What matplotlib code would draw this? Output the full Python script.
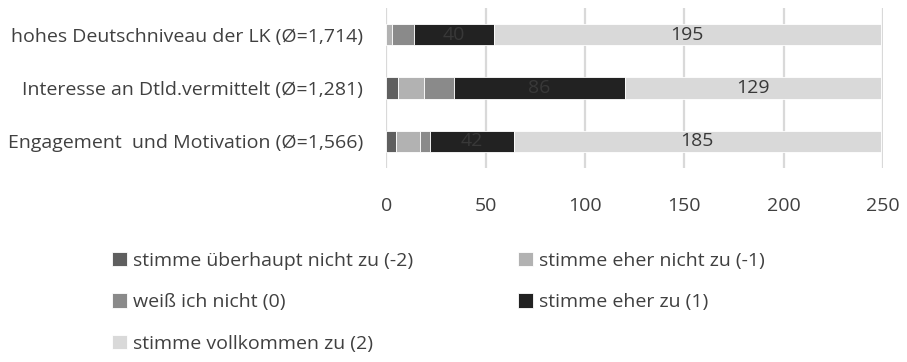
import matplotlib
matplotlib.use("Agg")
import matplotlib.pyplot as plt
import numpy as np

# Survey items (top to bottom) and answer categories
items = [
    "hohes Deutschniveau der LK (Ø=1,714)",
    "Interesse an Dtld.vermittelt (Ø=1,281)",
    "Engagement  und Motivation (Ø=1,566)",
]
categories = [
    "stimme überhaupt nicht zu (-2)",
    "stimme eher nicht zu (-1)",
    "weiß ich nicht (0)",
    "stimme eher zu (1)",
    "stimme vollkommen zu (2)",
]
# Counts per category, one list per answer level, in item order
strongly_disagree = [0, 6, 5]
disagree = [3, 13, 12]
dont_know = [11, 15, 5]
agree = [40, 86, 42]
strongly_agree = [195, 129, 185]

series = [strongly_disagree, disagree, dont_know, agree, strongly_agree]
colors = ["#5f5f5f", "#b2b2b2", "#8a8a8a", "#222222", "#d9d9d9"]
labelled = [False, False, False, True, True]
xticks = [0, 50, 100, 150, 200, 250]

plt.rcParams["font.family"] = ["Open Sans", "DejaVu Sans"]
text_color = "#404040"
fs = 14

fig = plt.figure(figsize=(9.07, 3.62), dpi=100)
ax = fig.add_axes([0.4261, 0.536, 0.5474, 0.442])

y = np.arange(len(items))
left = np.zeros(len(items))
handles = []
for vals, col, show in zip(series, colors, labelled):
    vals = np.array(vals, dtype=float)
    bars = ax.barh(y, vals, left=left, height=0.4, color=col,
                   edgecolor="white", linewidth=0.6, zorder=3)
    handles.append(bars)
    if show:
        ax.bar_label(bars, labels=[f"{int(v)}" for v in vals],
                     label_type="center", color="#383838", fontsize=fs)
    left += vals

ax.set_ylim(2.5, -0.5)
ax.set_xlim(0, 250)
ax.set_yticks(y)
ax.set_yticklabels(items, fontsize=fs, color=text_color)
ax.set_xticks(xticks)
ax.set_xticklabels([str(t) for t in xticks], fontsize=fs, color=text_color)
ax.tick_params(axis="both", length=0)
ax.tick_params(axis="y", pad=17)
ax.tick_params(axis="x", pad=21)
ax.grid(axis="x", color="#d9d9d9", linewidth=1.6, zorder=0)
for s in ax.spines.values():
    s.set_visible(False)

# Legend laid out row-wise in two columns
order = [0, 2, 4, 1, 3]
leg = fig.legend([handles[i] for i in order], [categories[i] for i in order],
                 ncol=2, loc="upper left", bbox_to_anchor=(0.1235, 0.3044),
                 frameon=False, fontsize=fs, handlelength=0.77,
                 handleheight=0.77, handletextpad=0.3, labelspacing=1.2,
                 columnspacing=5.4, borderpad=0, borderaxespad=0)
for t in leg.get_texts():
    t.set_color(text_color)

fig.savefig("out.png", dpi=100)
